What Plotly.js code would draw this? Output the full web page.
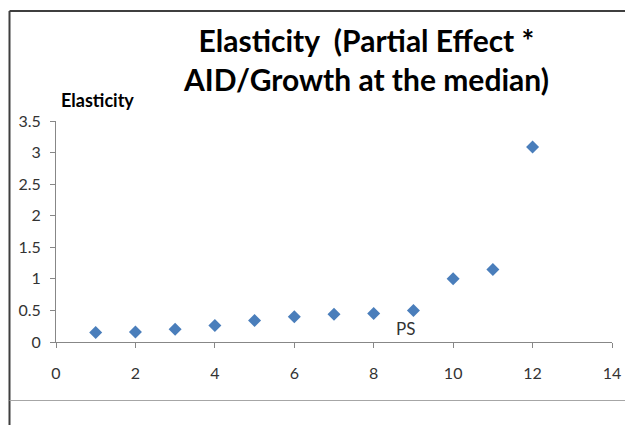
<!DOCTYPE html>
<html>
<head>
<meta charset="utf-8">
<script src="https://cdn.plot.ly/plotly-3.0.1.min.js"></script>
<style>
  html, body { margin: 0; padding: 0; background: #fff; }
  #chart { width: 625px; height: 425px; }
</style>
</head>
<body>
<div id="chart"></div>
<script>
// Elasticity by group (x = group index)
const groups = [1, 2, 3, 4, 5, 6, 7, 8, 9, 10, 11, 12];
const elasticity = [0.15, 0.16, 0.20, 0.26, 0.34, 0.40, 0.44, 0.45, 0.50, 1.00, 1.15, 3.09];
const xTicks = [0, 2, 4, 6, 8, 10, 12, 14];
const yTicks = [0, 0.5, 1, 1.5, 2, 2.5, 3, 3.5];
const yTickText = ['0', '0.5', '1', '1.5', '2', '2.5', '3', '3.5'];

const W = 625, H = 425;
const M = { l: 56, r: 13, t: 121, b: 83 };
const plotW = W - M.l - M.r, plotH = H - M.t - M.b;
// pixel position -> paper coordinate
const px = x => (x - M.l) / plotW;
const py = y => (H - M.b - y) / plotH;

const font = 'Lato, "Open Sans", "DejaVu Sans", sans-serif';

const trace = {
  type: 'scatter',
  mode: 'markers',
  x: groups,
  y: elasticity,
  marker: { symbol: 'diamond', size: 10, color: '#4a7ebb', line: { width: 0 } },
  hoverinfo: 'x+y'
};

const axisCommon = {
  showgrid: false,
  zeroline: false,
  showline: true,
  linecolor: '#878787',
  linewidth: 1,
  ticks: 'outside',
  ticklen: 5,
  tickcolor: '#878787',
  tickfont: { family: font, size: 16, color: '#333' },
  fixedrange: true
};

const layout = {
  width: W,
  height: H,
  margin: M,
  paper_bgcolor: '#fff',
  plot_bgcolor: '#fff',
  showlegend: false,
  xaxis: Object.assign({}, axisCommon, {
    range: [0, 14],
    tickvals: xTicks,
    ticklabelstandoff: 12
  }),
  yaxis: Object.assign({}, axisCommon, {
    range: [0, 3.5],
    tickvals: yTicks,
    ticktext: yTickText,
    ticklabelstandoff: 6
  }),
  annotations: [
    {
      // chart title, two lines
      text: '<b>Elasticity&nbsp; (Partial Effect *<br>AID/Growth at the median)</b>',
      xref: 'paper', yref: 'paper',
      x: px(366), y: py(59),
      xanchor: 'center', yanchor: 'middle',
      showarrow: false,
      font: { family: font, size: 30, color: '#000' }
    },
    {
      text: '<b>Elasticity</b>',
      xref: 'paper', yref: 'paper',
      x: px(59), y: py(100),
      xanchor: 'left', yanchor: 'middle',
      showarrow: false,
      font: { family: font, size: 18, color: '#000' }
    },
    {
      text: 'PS',
      xref: 'x', yref: 'y',
      x: 8.79, y: 0.21,
      xanchor: 'center', yanchor: 'middle',
      showarrow: false,
      font: { family: font, size: 17, color: '#333' }
    }
  ],
  shapes: [
    // outer frame: top and left edges
    { type: 'line', xref: 'paper', yref: 'paper', x0: px(9.5), x1: px(640), y0: py(11), y1: py(11),
      line: { color: '#3f3f3f', width: 2 } },
    { type: 'line', xref: 'paper', yref: 'paper', x0: px(9.5), x1: px(9.5), y0: py(11), y1: py(440),
      line: { color: '#3f3f3f', width: 2 } },
    // divider below the chart
    { type: 'line', xref: 'paper', yref: 'paper', x0: px(9.5), x1: px(640), y0: py(400.5), y1: py(400.5),
      line: { color: '#a6a6a6', width: 1 } }
  ]
};

Plotly.newPlot('chart', [trace], layout, { displayModeBar: false, staticPlot: true });
</script>
</body>
</html>
